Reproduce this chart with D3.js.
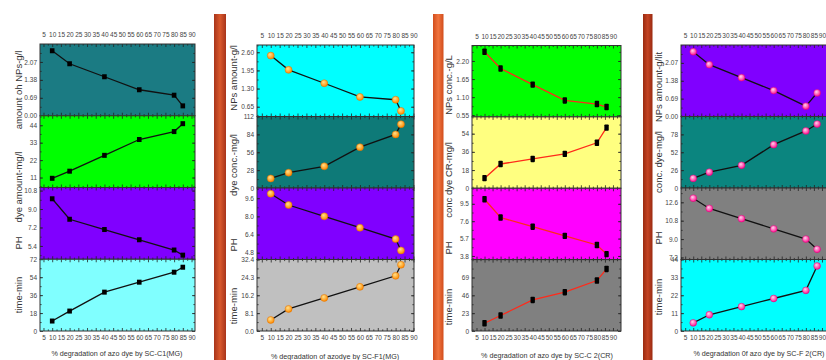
<!DOCTYPE html>
<html><head><meta charset="utf-8">
<script src="https://cdn.jsdelivr.net/npm/d3@7"></script>
<style>
body{margin:0;background:#fff}
svg{display:block}
text{font-family:"Liberation Sans",Arial,sans-serif;fill:#333}
.tk text{font-family:"Liberation Sans Narrow","Arial Narrow","Liberation Sans",Arial,sans-serif;font-size:6.5px;fill:#444}
</style>
</head><body>
<svg id="c" width="826" height="360"></svg>
<script>
// ---------- DATA ----------
// Panel 1: SC-C1(MG)
const x1 = [10, 20, 40, 60, 80, 85];
const nps1 = [2.50, 2.00, 1.50, 1.00, 0.79, 0.38];
const dye1 = [10.5, 15, 25, 35, 40, 45];
const ph1 = [10.0, 8.0, 7.0, 6.0, 5.0, 4.5];
const time1 = [10, 20, 39, 49, 59, 64];
// Panel 2: SC-F1(MG)
const x2 = [10, 20, 40, 60, 80, 83];
const nps2 = [2.48, 1.97, 1.49, 1.00, 0.90, 0.50];
const dye2 = [15, 24, 34, 64, 84, 100];
const ph2 = [10.0, 9.0, 8.0, 7.0, 6.0, 5.0];
const time2 = [5, 10, 15, 20, 25, 30];
// Panel 3: SC-C 2(CR)
const x3 = [10, 20, 40, 60, 80, 86];
const nps3 = [2.48, 1.97, 1.48, 1.00, 0.89, 0.80];
const dye3 = [10, 24, 29, 34, 45, 60];
const ph3 = [10, 8, 7, 6, 5, 4];
const time3 = [10, 20, 40, 50, 65, 80];
// Panel 4: SC-F 2(CR)
const x4 = [10, 20, 40, 60, 80, 87];
const nps4 = [2.50, 2.00, 1.50, 1.00, 0.40, 0.91];
const dye4 = [14, 23, 33, 63, 83, 93];
const ph4 = [13, 12, 11, 10, 9, 8];
const time4 = [5, 10, 15, 20, 25, 40];

// tick labels
const xTicks90 = [5,10,15,20,25,30,35,40,45,50,55,60,65,70,75,80,85,90];
const xTicks95 = [5,10,15,20,25,30,35,40,45,50,55,60,65,70,75,80,85,90,95];
const yTicks1 = [[0,0.69,1.38,2.07],[11,22,33,44],[5.4,7.2,9.0,10.8],[0,18,36,54,72]];
const yTicks2 = [[0.65,1.30,1.95,2.60],[0,28,56,84,112],[4.8,6.4,8.0,9.6],[0,8.1,16.2,24.3,32.4]];
const yTicks3 = [[0.55,1.10,1.65,2.20],[0,18,36,54],[3.8,5.7,7.6,9.5],[0,23,46,69]];
const yTicks4 = [[0,0.69,1.38,2.07],[0,26,52,78],[7.2,9.0,10.8,12.6],[0,11,22,33,44]];
const yFmt1 = [".2f","d",".1f","d"], yFmt2 = [".2f","d",".1f",".1f"], yFmt3 = [".2f","d",".1f","d"], yFmt4 = [".2f","d",".1f","d"];

// axis titles
const yTitles1 = ["amount oh NPs-g/l","dye amount-mg/l","PH","time-min"];
const yTitles2 = ["NPs amount-g/l","dye conc.-mg/l","PH","time-min"];
const yTitles3 = ["NPs conc.-g/L","conc dye CR-mg/l","PH","time-min"];
const yTitles4 = ["NPs amount-g/lit","conc. dye-mg/l","PH","time-min"];
const xTitles = ["% degradation of azo dye by SC-C1(MG)","% degradation of azodye by SC-F1(MG)","% degradation of azo dye by SC-C 2(CR)","% degradation 0f azo dye by SC-F 2(CR)"];

// ---------- STYLE / LAYOUT ----------
const panels = [
  {x:x1, series:[nps1,dye1,ph1,time1], ticks:yTicks1, fmt:yFmt1, titles:yTitles1,
   xDom:[3,92], xTicks:xTicks90, yDom:[[0,2.76],[4.7,50],[4.1,11.1],[0,72]],
   fills:["#1b7b83","#00ff00","#8000ff","#80ffff"], line:"#111", marker:"square",
   L:{x0:40,x1:195,top:44,bottom:331,ylx:19,yly:[90,187,243,295],tx:117,ty:354}, bar:null},
  {x:x2, series:[nps2,dye2,ph2,time2], ticks:yTicks2, fmt:yFmt2, titles:yTitles2,
   xDom:[2.3,90.3], xTicks:xTicks90, yDom:[[0.3,2.86],[0,112],[4.2,10.5],[0,32.4]],
   fills:["#00ffff","#0e7a78","#8000ff","#c0c0c0"], line:"#111", marker:"orange",
   L:{x0:257,x1:414,top:45,bottom:331,ylx:234,yly:[78,165,245,306],tx:335,ty:357},
   bar:{x:214,w:12,c0:"#a8341a",c1:"#d9582c"}},
  {x:x3, series:[nps3,dye3,ph3,time3], ticks:yTicks3, fmt:yFmt3, titles:yTitles3,
   xDom:[2.2,95], xTicks:xTicks95, yDom:[[0.5,2.67],[0,70.6],[3.4,11.2],[0,92]],
   fills:["#00ff00","#ffff80","#ff00ff","#808080"], line:"#ff2a1a", marker:"rect",
   L:{x0:472,x1:621,top:45.5,bottom:331,ylx:449,yly:[85,180,248,307],tx:547,ty:356},
   bar:{x:433,w:10.5,c0:"#d24d1c",c1:"#f0743e"}},
  {x:x4, series:[nps4,dye4,ph4,time4], ticks:yTicks4, fmt:yFmt4, titles:yTitles4,
   xDom:[2.4,95], xTicks:xTicks90, yDom:[[0,2.76],[0,104],[7,14],[0,44]],
   fills:["#8000ff","#0b857f","#808080","#00ffff"], line:"#111", marker:"pink",
   L:{x0:681,x1:830,top:45,bottom:331,ylx:659,yly:[87,162,238,297],tx:759,ty:354},
   bar:{x:643,w:9.5,c0:"#9a2a10",c1:"#c44424"}}
];

const svg = d3.select("#c");
const defs = svg.append("defs");
function radial(id, c0, c1){
  const g = defs.append("radialGradient").attr("id",id).attr("cx","40%").attr("cy","35%").attr("r","65%");
  g.append("stop").attr("offset","0%").attr("stop-color",c0);
  g.append("stop").attr("offset","100%").attr("stop-color",c1);
}
radial("gOrange","#ffe08a","#ff8a00");
radial("gPink","#ffd0ea","#ff1493");

panels.forEach((p,pi)=>{
  const L = p.L;
  if(p.bar){
    const gid = "bar"+pi;
    const lg = defs.append("linearGradient").attr("id",gid);
    lg.append("stop").attr("offset","0%").attr("stop-color",p.bar.c0);
    lg.append("stop").attr("offset","50%").attr("stop-color",p.bar.c1);
    lg.append("stop").attr("offset","100%").attr("stop-color",p.bar.c0);
    svg.append("rect").attr("x",p.bar.x).attr("y",14).attr("width",p.bar.w).attr("height",346).attr("fill",`url(#${gid})`);
  }
  const x = d3.scaleLinear().domain(p.xDom).range([L.x0,L.x1]);
  const h = (L.bottom-L.top)/4;
  const minorX = d3.range(2.5, p.xDom[1], 5).filter(v=>v>p.xDom[0]);
  const g = svg.append("g");
  p.series.forEach((vals,si)=>{
    const top = L.top + si*h, bot = top + h;
    const y = d3.scaleLinear().domain(p.yDom[si]).range([bot, top]);
    g.append("rect").attr("x",L.x0).attr("y",top).attr("width",L.x1-L.x0).attr("height",h)
      .attr("fill",p.fills[si]);
    // inward ticks
    const tk = g.append("g").attr("class","tk");
    const step = p.ticks[si][1]-p.ticks[si][0];
    const minorY = d3.range(p.ticks[si][0]-step/2, p.yDom[si][1], step/2).filter(v=>v>p.yDom[si][0] && v<p.yDom[si][1]);
    tk.append("g").attr("transform",`translate(${L.x0},0)`)
      .call(d3.axisLeft(y).tickValues(p.ticks[si]).tickFormat(d3.format(p.fmt[si])).tickSize(-3).tickPadding(3));
    tk.append("g").attr("transform",`translate(${L.x0},0)`)
      .call(d3.axisLeft(y).tickValues(minorY).tickFormat("").tickSize(-1.6));
    tk.append("g").attr("transform",`translate(${L.x1},0)`)
      .call(d3.axisRight(y).tickValues(p.ticks[si]).tickFormat("").tickSize(-3));
    tk.append("g").attr("transform",`translate(${L.x1},0)`)
      .call(d3.axisRight(y).tickValues(minorY).tickFormat("").tickSize(-1.6));
    // top and bottom x ticks
    tk.append("g").attr("transform",`translate(0,${top})`)
      .call(d3.axisTop(x).tickValues(p.xTicks.filter(v=>v<p.xDom[1])).tickFormat(si===0?d3.format("d"):"").tickSize(-3).tickPadding(7));
    tk.append("g").attr("transform",`translate(0,${top})`)
      .call(d3.axisTop(x).tickValues(minorX).tickFormat("").tickSize(-1.6));
    tk.append("g").attr("transform",`translate(0,${bot})`)
      .call(d3.axisBottom(x).tickValues(p.xTicks.filter(v=>v<p.xDom[1])).tickFormat(si===3?d3.format("d"):"").tickSize(-3).tickPadding(4));
    tk.append("g").attr("transform",`translate(0,${bot})`)
      .call(d3.axisBottom(x).tickValues(minorX).tickFormat("").tickSize(-1.6));
    tk.selectAll(".domain").remove();
    tk.selectAll("line").attr("stroke","#222").attr("stroke-width",0.8);
    g.append("rect").attr("x",L.x0).attr("y",top).attr("width",L.x1-L.x0).attr("height",h)
      .attr("fill","none").attr("stroke","#333").attr("stroke-width",1);
    // line
    const pts = p.x.map((xv,i)=>[x(xv), y(vals[i])]);
    g.append("path").attr("d", d3.line()(pts)).attr("fill","none")
      .attr("stroke",p.line).attr("stroke-width",1.3);
    const m = g.append("g");
    pts.forEach(([px,py])=>{
      if(p.marker==="square") m.append("rect").attr("x",px-2.3).attr("y",py-2.5).attr("width",4.6).attr("height",5).attr("fill","#000");
      else if(p.marker==="rect") m.append("rect").attr("x",px-2.2).attr("y",py-3.2).attr("width",4.4).attr("height",6.4).attr("rx",0.8).attr("fill","#000");
      else if(p.marker==="orange") m.append("circle").attr("cx",px).attr("cy",py).attr("r",3.5).attr("fill","url(#gOrange)").attr("stroke","#e07000").attr("stroke-width",0.5);
      else m.append("circle").attr("cx",px).attr("cy",py).attr("r",3.4).attr("fill","url(#gPink)").attr("stroke","#e0007a").attr("stroke-width",0.5);
    });
    // y title
    svg.append("text").attr("transform",`translate(${L.ylx},${L.yly[si]}) rotate(-90)`)
      .attr("text-anchor","middle").attr("dominant-baseline","middle")
      .attr("font-size",9.5).text(p.titles[si]);
  });
  svg.append("text").attr("x",L.tx).attr("y",L.ty).attr("text-anchor","middle")
    .attr("dominant-baseline","middle").attr("font-size",7.2).text(xTitles[pi]);
});
</script>
</body></html>
